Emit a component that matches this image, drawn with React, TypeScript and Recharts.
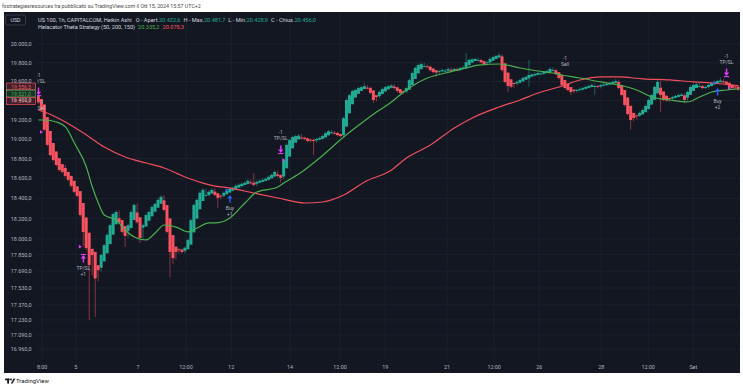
import React from 'react';
import { ComposedChart, Bar, Line, XAxis, YAxis, CartesianGrid, ReferenceDot } from 'recharts';

// ---------- data (Heikin Ashi candles, ~3h steps) ----------
const opens = [19450,19415,19358,19226,19083,18959,18872,18804,18744,18705,
18665,18625,18575,18520,18472,18354,18211,18062,17905,17875,
17748,17724,17784,17862,17951,18043,18144,18204,18185,18127,
18079,18107,18186,18260,18213,18111,18123,18179,18222,18268,
18307,18346,18380,18333,18201,18038,17926,17901,17898,17886,
17901,17945,18065,18200,18292,18374,18429,18432,18448,18467,
18451,18428,18426,18441,18458,18476,18491,18508,18521,18533,
18544,18560,18557,18546,18556,18565,18575,18585,18600,18618,
18641,18633,18619,18702,18821,18905,18963,18996,19016,19013,
19006,18993,18991,18986,18993,19001,19016,19038,19059,19064,
19062,19051,19040,19128,19266,19360,19430,19470,19500,19520,
19535,19532,19506,19455,19445,19467,19494,19517,19533,19546,
19538,19519,19498,19494,19512,19563,19627,19686,19730,19758,
19761,19758,19739,19720,19707,19709,19715,19715,19724,19723,
19728,19725,19734,19742,19773,19801,19818,19829,19829,19817,
19801,19803,19821,19840,19856,19868,19794,19694,19623,19584,
19579,19587,19601,19619,19633,19651,19663,19671,19680,19682,
19691,19701,19717,19719,19699,19668,19615,19573,19541,19515,
19507,19508,19514,19522,19532,19542,19552,19552,19547,19555,
19561,19567,19575,19585,19595,19563,19510,19431,19344,19270,
19243,19240,19254,19277,19309,19357,19407,19474,19534,19495,
19450,19425,19420,19428,19437,19447,19454,19429,19459,19500,
19531,19550,19551,19541,19541,19552,19568,19581,19593,19601,
19598,19586,19564,19547,19544];

const closes = [19380,19300,19095,18940,18835,18785,18735,18685,18665,18625,
18585,18525,18465,18425,18235,18069,17913,17749,17845,17620,
17700,17845,17940,18040,18135,18245,18265,18165,18070,18030,
18135,18265,18335,18165,18010,18135,18235,18265,18315,18345,
18385,18415,18285,18070,17875,17815,17875,17895,17875,17915,
17990,18185,18335,18385,18455,18485,18435,18465,18485,18435,
18405,18425,18455,18475,18495,18505,18525,18535,18545,18555,
18575,18555,18535,18565,18575,18585,18595,18615,18635,18665,
18625,18605,18785,18940,18990,19020,19030,19035,19010,19000,
18980,18990,18980,19000,19010,19030,19060,19080,19070,19060,
19040,19030,19215,19405,19455,19500,19510,19530,19540,19550,
19530,19480,19405,19435,19490,19520,19540,19550,19558,19530,
19500,19478,19490,19530,19615,19690,19745,19775,19785,19765,
19755,19720,19700,19695,19710,19722,19715,19733,19722,19733,
19722,19743,19750,19805,19830,19835,19840,19830,19805,19785,
19805,19840,19860,19872,19880,19720,19595,19552,19545,19575,
19595,19615,19637,19648,19669,19675,19680,19690,19685,19700,
19711,19733,19722,19680,19637,19563,19531,19510,19489,19499,
19510,19520,19531,19542,19552,19563,19552,19542,19563,19568,
19574,19584,19595,19605,19531,19457,19352,19258,19196,19217,
19238,19269,19300,19342,19405,19457,19542,19595,19457,19405,
19400,19415,19436,19447,19457,19462,19405,19489,19542,19563,
19570,19552,19531,19542,19563,19584,19595,19605,19610,19595,
19574,19542,19531,19542,19514.3];

const highs = [19460,19395,19315,19110,18955,18850,18800,18750,18700,18735,
18640,18600,18540,18483,18440,18250,18085,17930,17860,17860,
17720,17860,17955,18055,18150,18260,18280,18280,18180,18085,
18150,18280,18350,18350,18180,18150,18250,18280,18330,18360,
18400,18433,18430,18300,18085,17890,17890,17910,17910,17930,
18005,18200,18350,18400,18470,18500,18500,18480,18500,18500,
18450,18440,18470,18490,18510,18520,18540,18550,18560,18570,
18590,18590,18654,18580,18590,18600,18610,18630,18650,18680,
18680,18640,18800,18955,19005,19035,19045,19050,19050,19025,
19015,19005,19005,19015,19025,19045,19075,19095,19095,19085,
19075,19055,19230,19420,19470,19515,19525,19545,19555,19584,
19565,19545,19495,19450,19505,19535,19555,19565,19573,19573,
19545,19515,19505,19545,19630,19705,19760,19790,19800,19800,
19780,19770,19735,19715,19725,19737,19737,19748,19748,19748,
19748,19758,19765,19904,19845,19850,19855,19855,19845,19820,
19820,19855,19875,19887,19905,19895,19735,19610,19567,19590,
19610,19630,19652,19663,19829,19690,19695,19705,19705,19715,
19726,19748,19748,19737,19695,19652,19578,19546,19525,19514,
19525,19535,19546,19557,19567,19578,19578,19567,19578,19583,
19589,19599,19610,19625,19620,19546,19472,19367,19273,19232,
19253,19284,19315,19357,19420,19472,19557,19616,19610,19472,
19420,19430,19451,19462,19472,19477,19477,19504,19557,19578,
19585,19585,19567,19557,19578,19599,19610,19620,19640,19625,
19610,19589,19557,19557,19557];

const lows = [19360,19285,19080,18925,18820,18770,18720,18670,18650,18610,
18570,18510,18450,18410,18220,17930,17890,17229,17650,17257,
17590,17685,17830,17925,18025,18120,18230,18150,18055,17923,
18015,18120,18250,18150,17962,17995,18120,18220,18250,18300,
18330,18370,18270,18055,17634,17760,17800,17860,17860,17860,
17900,17975,18170,18320,18370,18440,18420,18420,18450,18420,
18305,18390,18410,18440,18460,18480,18490,18510,18520,18530,
18540,18540,18520,18520,18550,18560,18570,18580,18600,18620,
18610,18560,18590,18770,18925,18975,19005,19015,18995,18985,
18965,18965,18836,18965,18985,18995,19015,19045,19055,19045,
19025,19015,19015,19200,19390,19440,19485,19495,19515,19525,
19515,19465,19373,19390,19420,19475,19505,19525,19535,19515,
19485,19463,19463,19475,19515,19600,19675,19730,19760,19750,
19740,19705,19685,19648,19680,19695,19700,19700,19707,19707,
19707,19707,19728,19735,19790,19815,19820,19815,19790,19770,
19770,19790,19825,19845,19857,19705,19580,19489,19530,19530,
19560,19580,19600,19622,19542,19654,19660,19665,19670,19670,
19685,19696,19707,19665,19622,19548,19516,19495,19457,19474,
19484,19495,19505,19516,19527,19537,19457,19527,19527,19548,
19553,19559,19569,19580,19516,19442,19337,19243,19093,19181,
19202,19223,19254,19285,19327,19390,19442,19527,19279,19390,
19385,19385,19400,19421,19432,19442,19373,19390,19474,19527,
19548,19537,19516,19516,19527,19548,19569,19580,19590,19580,
19559,19527,19516,19516,19499];

// strategy lines (Helacator Theta Strategy), sampled at bar indices
const fastIdx = [0,2,6,9,12,16,18,20,22,26,29,32,36,39,42,46,50,53,57,59,64,69,73,80,82,88,94,102,108,113,118,123,130,136,143,147,154,161,167,172,175,181,188,194,200,205,211,217,221,225,230,234];
const fastVals = [19196,19196,19175,19124,18959,18715,18513,18354,18235,18186,18088,18020,17991,18059,18137,18117,18069,18108,18157,18157,18206,18354,18463,18513,18553,18664,18806,19020,19165,19279,19384,19510,19637,19690,19743,19775,19786,19743,19711,19690,19669,19637,19595,19563,19510,19436,19405,19384,19436,19489,19510,19521];
const slowIdx = [0,2,9,16,22,29,36,42,49,55,59,64,72,80,89,95,102,109,118,123,131,139,145,154,161,167,174,181,188,194,202,211,219,225,234];
const slowVals = [19300,19279,19175,19041,18918,18816,18755,18705,18614,18553,18523,18503,18453,18404,18354,18364,18433,18564,18684,18806,18938,19113,19217,19331,19405,19478,19542,19616,19648,19648,19627,19616,19595,19584,19556.5];

// axes
const yTicks = [16960,17090,17230,17370,17530,17690,17850,18000,18200,18400,18600,18800,19000,19200,19400,19600,19800,20000];
const xTickPos = [1.2,12.5,33.3,49.3,64.4,84.1,100.8,115.9,136.6,152.3,167.4,188.1,203.8,218.9];
const xTickLabels = ['8:00','5','7','12:00','12','14','12:00','19','21','12:00','26','28','12:00','Set'];

// strategy order markers
const markerIdx = [0,1,1,15,14,64,63,81,82,176,227,226,230,231];
const markerPrice = [19457,19384,19072,17845,17926,18433,18483,18857,18786,19850,19531,19584,19658,19531];
const markerKind = ['exitDown','text','fillM','exitUp','fillM','buyUp','fillB','exitDown','fillM','text','buyUp','fillB','exitDown','fillM'];
const markerText1 = ['-1','-1','','TP/SL','','Buy','','-1','','-1','Buy','','-1',''];
const markerText2 = ['TP/SL','Sell','','+1','','+1','','TP/SL','','Sell','+2','','TP/SL',''];

// last-value price labels on the scale
const priceLabelVals = [19556.5,19521.0,19514.3];
const priceLabelCols = ['#f7525f','#4caf50','#f7525f'];

// ---------- styling ----------
const GREEN = '#22ab94';
const RED = '#f7525f';
const MAGENTA = '#e040fb';
const BLUE = '#2962ff';
const LABEL = '#b2b5be';
const FONT = 'Roboto, "Noto Sans", sans-serif';

const candles = closes.map((c, i) => ({ k: i, o: opens[i], c, h: highs[i], l: lows[i], range: [lows[i], highs[i]] }));
const fastData = fastIdx.map((k, i) => ({ k, v: fastVals[i] }));
const slowData = slowIdx.map((k, i) => ({ k, v: slowVals[i] }));

function fmt(v: number) {
  const s = v.toFixed(1);
  const [ip, fp] = s.split('.');
  let out = '';
  for (let i = 0; i < ip.length; i++) {
    if (i > 0 && (ip.length - i) % 3 === 0) out += '.';
    out += ip[i];
  }
  return out + ',' + fp;
}

function Candle(props: any) {
  const { x, y, width, height, payload } = props;
  if (!payload || !isFinite(y) || !isFinite(height)) return null;
  const top = Math.min(y, y + height);
  const bot = Math.max(y, y + height);
  const lh = Math.log(payload.h);
  const ll = Math.log(payload.l);
  const span = lh - ll || 1;
  const pix = (v: number) => top + (bot - top) * (lh - Math.log(v)) / span;
  const up = payload.c >= payload.o;
  const col = up ? GREEN : RED;
  const cx = x + width / 2;
  const yo = pix(payload.o);
  const yc = pix(payload.c);
  const bt = Math.min(yo, yc);
  const bb = Math.max(yo, yc);
  const bh = Math.max(bb - bt, 1);
  const wt = Math.min(top, bt);
  const wb = Math.max(bot, bb);
  const bw = 3;
  return (
    <g>
      <rect x={cx - 0.5} y={wt} width={1} height={Math.max(wb - wt, 1)} fill={col} opacity={0.5} />
      <rect x={cx - bw / 2} y={bt} width={bw} height={bh} fill={col} />
    </g>
  );
}

function makeMarker(kind: string, t1: string, t2: string) {
  return (p: any) => {
    const { cx, cy } = p;
    if (!isFinite(cx) || !isFinite(cy)) return <g />;
    const txt = (s: string, yy: number) => (
      <text x={cx} y={yy} textAnchor="middle" dominantBaseline="central" fontSize={5} fill={LABEL} fontFamily={FONT}>{s}</text>
    );
    let body: any = null;
    if (kind === 'exitDown') {
      body = (
        <g>
          <rect x={cx - 0.7} y={cy - 7.5} width={1.4} height={4.5} fill={MAGENTA} />
          <polygon points={`${cx},${cy} ${cx - 2.6},${cy - 3.4} ${cx + 2.6},${cy - 3.4}`} fill={MAGENTA} />
          <rect x={cx - 2.6} y={cy} width={5.2} height={1.1} fill={MAGENTA} />
          {txt(t1, cy - 20.5)}
          {txt(t2, cy - 14.5)}
        </g>
      );
    } else if (kind === 'exitUp' || kind === 'buyUp') {
      const col = kind === 'exitUp' ? MAGENTA : BLUE;
      body = (
        <g>
          <rect x={cx - 0.7} y={cy + 3} width={1.4} height={4.5} fill={col} />
          <polygon points={`${cx},${cy} ${cx - 2.6},${cy + 3.4} ${cx + 2.6},${cy + 3.4}`} fill={col} />
          {kind === 'exitUp' ? <rect x={cx - 2.6} y={cy - 1.1} width={5.2} height={1.1} fill={col} /> : null}
          {txt(t1, cy + 13)}
          {txt(t2, cy + 19)}
        </g>
      );
    } else if (kind === 'text') {
      body = (
        <g>
          {txt(t1, cy)}
          {txt(t2, cy + 6)}
        </g>
      );
    } else {
      const col = kind === 'fillM' ? MAGENTA : BLUE;
      body = <polygon points={`${cx - 1.5},${cy - 1.8} ${cx - 1.5},${cy + 1.8} ${cx + 1.6},${cy}`} fill={col} />;
    }
    return <g clipPath="url(#plotClip)">{body}</g>;
  };
}

function makePriceBox(i: number) {
  const shifts = [0.8, 4.6, 11.4];
  return (p: any) => {
    const { cy } = p;
    if (!isFinite(cy)) return <g />;
    const yc = cy + shifts[i];
    const col = priceLabelCols[i];
    return (
      <g>
        <rect x={6.5} y={yc - 3.4} width={29} height={6.8} fill="#131722" />
        <rect x={6.5} y={yc - 3.4} width={29} height={6.8} fill={col} fillOpacity={0.18} stroke={col} strokeWidth={0.7} />
        <text x={21} y={yc + 0.2} textAnchor="middle" dominantBaseline="central" fontSize={5.1} fill={col} fontFamily={FONT}>{fmt(priceLabelVals[i])}</text>
      </g>
    );
  };
}

const YTick = (p: any) => {
  const { y, payload } = p;
  return (
    <text x={31.5} y={y} textAnchor="end" dominantBaseline="central" fontSize={5.4} fill={LABEL} fontFamily={FONT}>{fmt(payload.value)}</text>
  );
};

const XTick = (p: any) => {
  const { x, payload } = p;
  const i = xTickPos.indexOf(payload.value);
  return (
    <text x={x} y={367} textAnchor="middle" dominantBaseline="central" fontSize={5.4} fill={LABEL} fontFamily={FONT}>{i >= 0 ? xTickLabels[i] : ''}</text>
  );
};

export default function App() {
  return (
    <div style={{ position: 'absolute', left: 0, top: 0, width: 743, height: 390, background: '#ffffff', overflow: 'hidden', fontFamily: FONT }}>
      <div style={{ position: 'absolute', left: 4, top: 12, width: 736, height: 361, background: '#131722' }} />
      <div style={{ position: 'absolute', left: 0, top: 0 }}>
        <ComposedChart width={743} height={390} data={candles} margin={{ top: 12, right: 3, bottom: 17, left: 4 }}>
          <defs>
            <clipPath id="plotClip">
              <rect x={37} y={12} width={703} height={347} />
            </clipPath>
          </defs>
          <CartesianGrid stroke="#1f2330" strokeWidth={0.8} syncWithTicks />
          <XAxis dataKey="k" type="number" domain={[-0.5, 234.5]} ticks={xTickPos} interval={0}
            tick={XTick} tickLine={false} axisLine={false} height={14} allowDataOverflow />
          <YAxis type="number" scale="log" domain={[16870, 20350]} ticks={yTicks} interval={0}
            tick={YTick} tickLine={false} axisLine={false} width={33} allowDataOverflow />
          <Bar dataKey="range" shape={Candle} isAnimationActive={false} barSize={3} />
          <Line data={slowData} dataKey="v" type="monotone" stroke="#f0505c" strokeWidth={1.2} dot={false} activeDot={false} isAnimationActive={false} />
          <Line data={fastData} dataKey="v" type="monotone" stroke="#4caf50" strokeWidth={1.2} dot={false} activeDot={false} isAnimationActive={false} />
          {markerIdx.map((k, i) => (
            <ReferenceDot key={'m' + i} x={k} y={markerPrice[i]} r={0} ifOverflow="visible"
              shape={makeMarker(markerKind[i], markerText1[i], markerText2[i])} />
          ))}
          {priceLabelVals.map((v, i) => (
            <ReferenceDot key={'p' + i} x={0} y={v} r={0} ifOverflow="visible" shape={makePriceBox(i)} />
          ))}
        </ComposedChart>
      </div>
      <svg style={{ position: 'absolute', left: 0, top: 0 }} width={743} height={390}>
        <text x={2} y={8} fontSize={5.3} fill="#4a4a4a" fontFamily={FONT}>fxstrategiesresources ha pubblicato su TradingView.com il Ott 15, 2024 15:57 UTC+2</text>
        <rect x={5.5} y={15} width={20} height={10} rx={1.5} fill="#131722" stroke="#50535e" strokeWidth={0.6} />
        <text x={15.5} y={20.2} textAnchor="middle" dominantBaseline="central" fontSize={5.2} fill="#d1d4dc" fontFamily={FONT}>USD</text>
        <text x={38} y={21.8} fontSize={5.6} fill="#d1d4dc" fontFamily={FONT}>
          US 100, 1h, CAPITALCOM, Heikin Ashi
          <tspan dx={4}>O - Apert.</tspan><tspan fill={GREEN}>20.432,6</tspan>
          <tspan dx={3}>H - Max.</tspan><tspan fill={GREEN}>20.481,7</tspan>
          <tspan dx={3}>L - Min.</tspan><tspan fill={GREEN}>20.428,9</tspan>
          <tspan dx={3}>C - Chius.</tspan><tspan fill={GREEN}>20.456,0</tspan>
        </text>
        <text x={38} y={28.8} fontSize={5.6} fill="#d1d4dc" fontFamily={FONT}>
          Helacator Theta Strategy (50, 200, 150)
          <tspan dx={3} fill="#4caf50">20.335,2</tspan>
          <tspan dx={3} fill={RED}>20.078,3</tspan>
        </text>
        <g fill="#131722">
          <rect x={5} y={378.6} width={4.6} height={1.7} />
          <rect x={7.2} y={378.6} width={1.8} height={5} />
          <circle cx={11} cy={379.5} r={0.95} />
          <polygon points="13.6,378.6 15.3,378.6 12.6,383.6 10.9,383.6" />
        </g>
        <text x={16} y={383.2} fontSize={6} fill="#131722" fontFamily={FONT}>TradingView</text>
      </svg>
    </div>
  );
}
